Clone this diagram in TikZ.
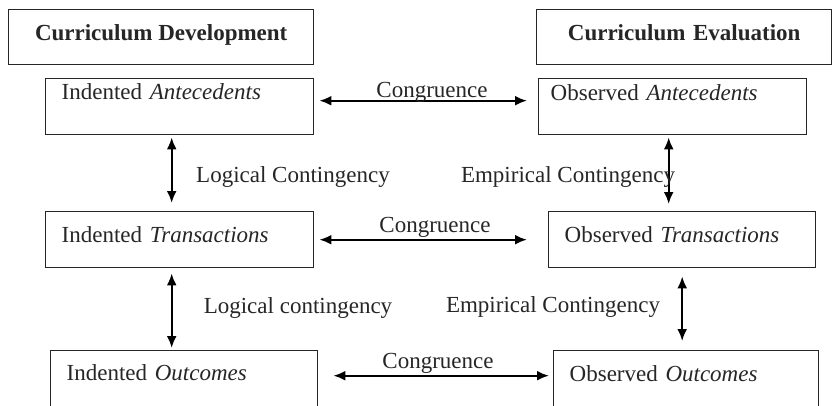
\documentclass[tikz,border=0pt]{standalone}
\usepackage{fontspec}
\setmainfont{Liberation Serif}
\usepackage{xcolor}
\usepackage{tikz}
\usetikzlibrary{arrows.meta}
\definecolor{inkgray}{HTML}{262626}
\tikzset{head/.style ={draw, anchor=north west, inner sep=0pt, minimum width=#1, text height=31pt, text depth=24pt, font=\fontsize{23}{28}\selectfont\bfseries}}
\tikzset{stage/.style ={draw, anchor=north west, inner xsep=16pt, inner ysep=0pt, text width=#1, align=left}}
\tikzset{link/.style ={<->, >={Latex[length=12pt,width=10pt]}, line width=2.2pt, black}}
\tikzset{linktext/.style ={anchor=base, inner sep=0pt}}

\begin{document}
\begin{tikzpicture}[x=1pt, y=-1pt, font=\fontsize{23}{28}\selectfont, line width=1.4pt, draw=inkgray, text=inkgray]
\clip (0,0) rectangle (833,405);
\node[head=305pt] (cd) at (8,9) {Curriculum Development};
\node[head=295pt, text width=283pt, align=center, inner xsep=6pt] (ce) at (536,9) {Curriculum Evaluation};
\node[stage=236pt, text height=21pt, text depth=35pt] (ia) at (45,78) {Indented \textit{Antecedents}};
\node[stage=244pt, inner xsep=12pt, text height=22pt, text depth=34pt] (oa) at (538,78) {Observed \textit{Antecedents}};
\node[stage=236pt, text height=31pt, text depth=25pt] (it) at (45,211) {Indented \textit{Transactions}};
\node[stage=235pt, text height=31pt, text depth=25pt] (ot) at (548,211) {Observed \textit{Transactions}};
\node[stage=235pt, text height=30pt, text depth=28pt] (io) at (50,350) {Indented \textit{Outcomes}};
\node[stage=233pt, text height=31pt, text depth=27pt] (oo) at (553,350) {Observed \textit{Outcomes}};
\draw[link, shorten <=5pt, shorten >=11pt] ([yshift=6pt]ia.east) -- ([yshift=6pt]oa.west);
\draw[link, shorten <=5pt, shorten >=21pt] (it.east) -- (ot.west);
\draw[link, shorten <=15pt, shorten >=4pt] ([yshift=4pt]io.east) -- ([yshift=4pt]oo.west);
\draw[link, shorten <=2pt, shorten >=8pt] ([xshift=-8pt]ia.south) -- ([xshift=-8pt]it.north);
\draw[link, shorten <=5pt, shorten >=2pt] ([xshift=-8pt]it.south) -- ([xshift=-8pt]it.south |- io.north);
\draw[link, shorten <=2pt, shorten >=7pt] ([xshift=-4pt]oa.south) -- ([xshift=-4pt]oa.south |- ot.north);
\draw[link, shorten <=8pt, shorten >=9pt] (ot.south) -- (ot.south |- oo.north);
\node[linktext] (c1) at (432,97) {Congruence};
\node[linktext] (c2) at (435,232) {Congruence};
\node[linktext] (c3) at (438,368) {Congruence};
\node[linktext] (l1) at (293,182) {Logical Contingency};
\node[linktext] (l2) at (298,313) {Logical contingency};
\node[linktext] (e1) at (568,182) {Empirical Contingency};
\node[linktext] (e2) at (553,312) {Empirical Contingency};
\end{tikzpicture}
\end{document}
